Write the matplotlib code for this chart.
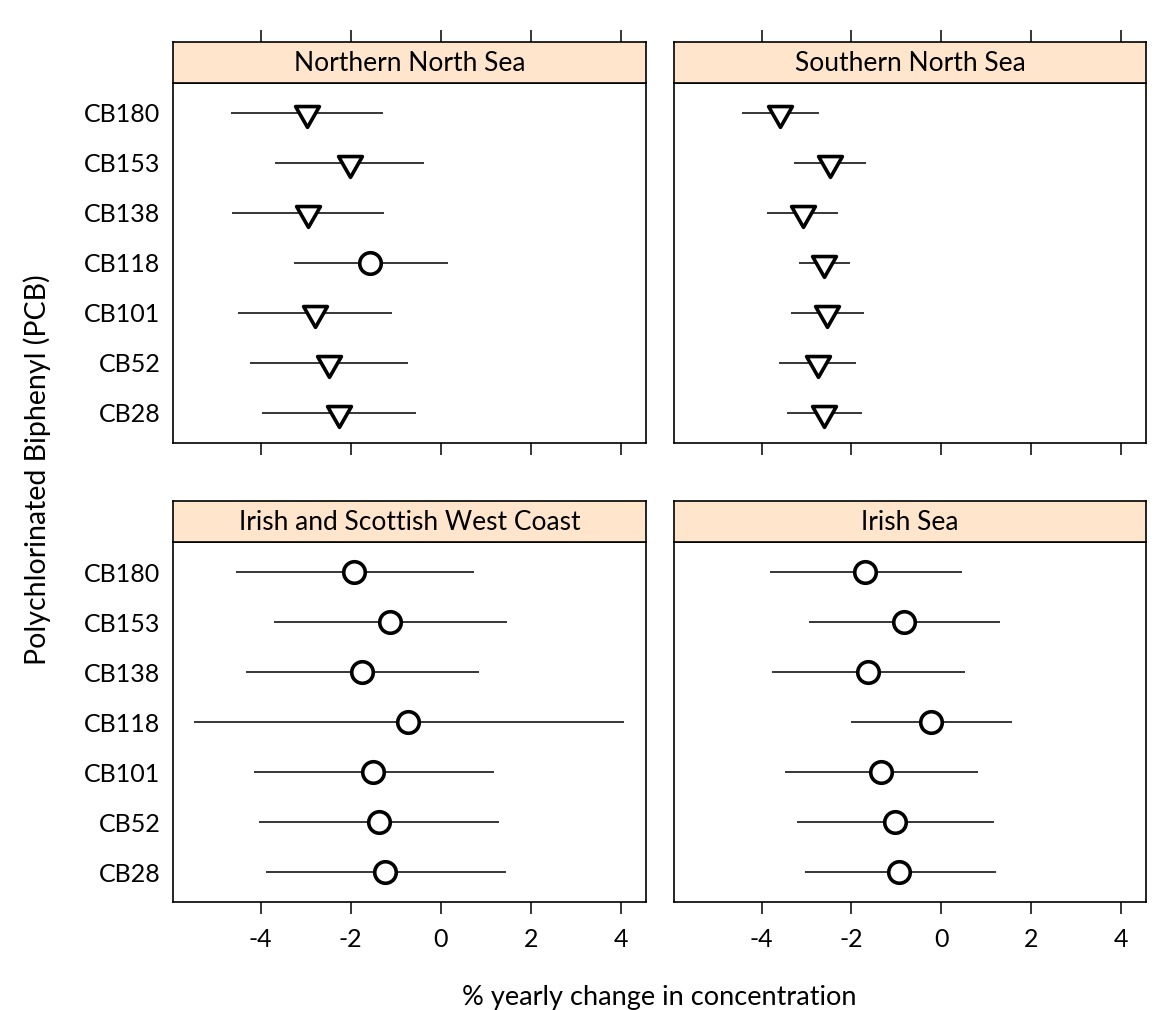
import numpy as np
import matplotlib.pyplot as plt
from matplotlib.path import Path

plt.rcParams['font.family'] = ['Lato', 'DejaVu Sans']
plt.rcParams['axes.unicode_minus'] = False

# PCB congeners, bottom to top
congeners = ['CB28', 'CB52', 'CB101', 'CB118', 'CB138', 'CB153', 'CB180']

regions = ['Northern North Sea', 'Southern North Sea',
           'Irish and Scottish West Coast', 'Irish Sea']

# % yearly change: estimate, lower and upper limits (order as congeners)
nns_est = [-2.27, -2.49, -2.79, -1.57, -2.96, -2.02, -2.98]
nns_lo = [-3.98, -4.25, -4.50, -3.27, -4.64, -3.68, -4.67]
nns_hi = [-0.56, -0.73, -1.08, 0.16, -1.27, -0.37, -1.28]

sns_est = [-2.62, -2.75, -2.54, -2.62, -3.08, -2.48, -3.58]
sns_lo = [-3.44, -3.61, -3.35, -3.17, -3.88, -3.27, -4.43]
sns_hi = [-1.76, -1.90, -1.73, -2.04, -2.29, -1.68, -2.72]

iswc_est = [-1.23, -1.38, -1.50, -0.72, -1.76, -1.13, -1.93]
iswc_lo = [-3.89, -4.04, -4.14, -5.49, -4.33, -3.70, -4.56]
iswc_hi = [1.45, 1.30, 1.18, 4.08, 0.85, 1.47, 0.73]

is_est = [-0.93, -1.04, -1.33, -0.23, -1.63, -0.83, -1.69]
is_lo = [-3.04, -3.21, -3.47, -2.01, -3.76, -2.95, -3.82]
is_hi = [1.21, 1.18, 0.83, 1.58, 0.52, 1.31, 0.47]

data = [(nns_est, nns_lo, nns_hi), (sns_est, sns_lo, sns_hi),
        (iswc_est, iswc_lo, iswc_hi), (is_est, is_lo, is_hi)]

xticks = [-4, -2, 0, 2, 4]

# down triangle with its centroid on the line (like lattice pch=6)
tri = Path([(-12, 7), (12, 7), (0, -14), (-12, 7)],
           [Path.MOVETO, Path.LINETO, Path.LINETO, Path.CLOSEPOLY])

W, H = 1170, 1010
fig = plt.figure(figsize=(W / 100, H / 100), dpi=100)

# panel boxes in pixels: columns (left, right), rows (strip top, panel top, panel bottom)
cols = [(173, 646), (674, 1146)]
rows = [(42, 83, 443), (501, 542, 902)]

y = np.arange(1, len(congeners) + 1)

for i, region in enumerate(regions):
    r, c = divmod(i, 2)
    x0, x1 = cols[c]
    s_top, p_top, p_bot = rows[r]

    ax = fig.add_axes([x0 / W, 1 - p_bot / H, (x1 - x0) / W, (p_bot - p_top) / H])
    st = fig.add_axes([x0 / W, 1 - p_top / H, (x1 - x0) / W, (p_top - s_top) / H],
                      sharex=ax)

    est, lo, hi = [np.array(a) for a in data[i]]
    sig = hi < 0

    ax.hlines(y, lo, hi, color='black', lw=1.1, zorder=2)
    ax.plot(est[sig], y[sig], linestyle='none', marker=tri, ms=20,
            mfc='white', mec='black', mew=2.6, zorder=3)
    ax.plot(est[~sig], y[~sig], linestyle='none', marker='o', ms=15.5,
            mfc='white', mec='black', mew=2.6, zorder=3)

    ax.set_xlim(-5.95, 4.56)
    ax.set_ylim(0.4, 7.6)
    ax.set_xticks(xticks)
    ax.set_yticks(y)
    for sp in ax.spines.values():
        sp.set_linewidth(1.2)

    if c == 0:
        ax.set_yticklabels(congeners)
    else:
        ax.set_yticklabels([])
    ax.tick_params(axis='y', length=0, pad=9, labelsize=18)

    if r == 1:
        ax.tick_params(axis='x', length=8.6, width=1.1, pad=10, labelsize=18)
    else:
        ax.tick_params(axis='x', length=8.6, width=1.1, labelbottom=False)

    # strip with the region name
    st.set_facecolor('#FFE5CC')
    st.set_yticks([])
    for sp in st.spines.values():
        sp.set_linewidth(1.2)
    st.text(0.5, 0.48, region, transform=st.transAxes, ha='center',
            va='center', fontsize=19)
    if r == 0:
        st.tick_params(axis='x', top=True, bottom=False, labeltop=False,
                       labelbottom=False, length=8.6, width=1.1)
    else:
        st.tick_params(axis='x', top=False, bottom=False, labeltop=False,
                       labelbottom=False)

fig.text(659.5 / W, 1 - 997 / H, '% yearly change in concentration',
         ha='center', va='center', fontsize=19.5)
fig.text(37 / W, 1 - 470 / H, 'Polychlorinated Biphenyl (PCB)',
         ha='center', va='center', rotation=90, fontsize=20.5)

plt.savefig('out.png', dpi=100)
